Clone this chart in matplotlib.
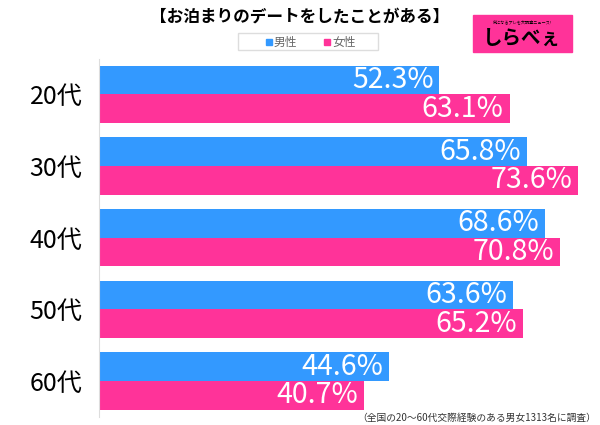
import matplotlib.pyplot as plt
from matplotlib.patches import Rectangle
import numpy as np

categories = ["20代", "30代", "40代", "50代", "60代"]
male = [52.3, 65.8, 68.6, 63.6, 44.6]
female = [63.1, 73.6, 70.8, 65.2, 40.7]

male_color = "#3399ff"
female_color = "#ff3399"
plt.rcParams["font.family"] = ["Noto Sans CJK JP", "DejaVu Sans"]

fig = plt.figure(figsize=(6, 4.25), dpi=100)
ax = fig.add_axes([0.165, 0.019, 0.835, 0.843])

y = np.arange(len(categories))
h = 0.4
ax.barh(y - h / 2, male, height=h, color=male_color)
ax.barh(y + h / 2, female, height=h, color=female_color)

for i in range(len(categories)):
    ax.text(male[i] - 0.9, y[i] - h / 2, f"{male[i]:.1f}%", color="white",
            fontsize=20.5, ha="right", va="center")
    ax.text(female[i] - 0.9, y[i] + h / 2, f"{female[i]:.1f}%", color="white",
            fontsize=20.5, ha="right", va="center")

ax.set_xlim(0, 77)
ax.set_ylim(4.5, -0.5)
ax.set_yticks(y)
ax.set_yticklabels(categories, fontsize=18)
ax.tick_params(axis="y", length=0, pad=12)
ax.set_xticks([])
for s in ["top", "right", "bottom"]:
    ax.spines[s].set_visible(False)
ax.spines["left"].set_color("#dddddd")

fig.text(0.5, 0.962, "【お泊まりのデートをしたことがある】", ha="center", va="center",
         fontsize=12, fontweight="bold")

# legend box
fig.patches.append(Rectangle((238 / 600, 1 - 50 / 425), 140 / 600, 17 / 425,
                             transform=fig.transFigure, fill=False,
                             edgecolor="#dddddd", lw=1))
fig.patches.append(Rectangle((266 / 600, 1 - 45 / 425), 6 / 600, 6 / 425,
                             transform=fig.transFigure, color=male_color))
fig.text(274 / 600, 1 - 42 / 425, "男性", fontsize=8.5, color="#666666", va="center")
fig.patches.append(Rectangle((324 / 600, 1 - 45 / 425), 6 / 600, 6 / 425,
                             transform=fig.transFigure, color=female_color))
fig.text(332 / 600, 1 - 42 / 425, "女性", fontsize=8.5, color="#666666", va="center")

# logo
fig.patches.append(Rectangle((473 / 600, 1 - 52 / 425), 99 / 600, 37 / 425,
                             transform=fig.transFigure, color="#ff3399"))
fig.text(522 / 600, 1 - 22 / 425, "気になるアレを大調査ニュース!", fontsize=3,
         ha="center", va="center", color="black")
fig.text(522 / 600, 1 - 38 / 425, "しらべぇ", fontsize=14, ha="center",
         va="center", color="black", fontweight="bold")

fig.text(0.993, 0.016, "（全国の20〜60代交際経験のある男女1313名に調査）", fontsize=7,
         ha="right", va="center", color="#333333")

fig.savefig("out.png", dpi=100)
